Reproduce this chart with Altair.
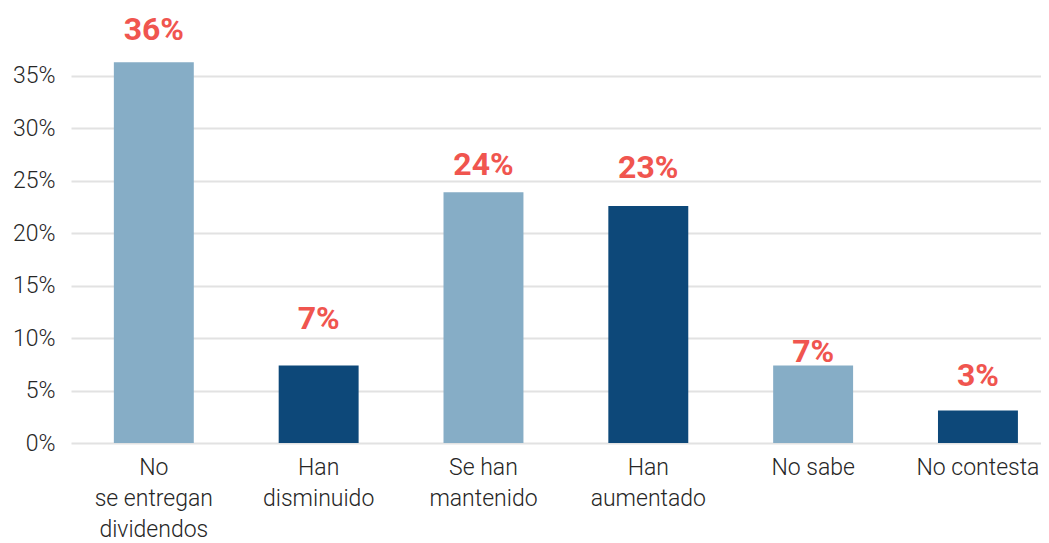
import altair as alt
import pandas as pd

categories = ["No|se entregan|dividendos", "Han|disminuido", "Se han|mantenido",
              "Han|aumentado", "No sabe", "No contesta"]
values = [0.363, 0.074, 0.239, 0.226, 0.074, 0.031]
value_labels = ["36%", "7%", "24%", "23%", "7%", "3%"]
tones = ["claro", "oscuro", "claro", "oscuro", "claro", "oscuro"]
y_ticks = [0, 0.05, 0.10, 0.15, 0.20, 0.25, 0.30, 0.35]

# style: pixel gap between each bar top and its label baseline
label_gaps = [22, 36, 17, 28, 3, 24]

df = pd.DataFrame({
    "cat": categories,
    "value": values,
    "label": value_labels,
    "tone": tones,
})

x = alt.X(
    "cat:N",
    sort=categories,
    title=None,
    scale=alt.Scale(paddingInner=0.515, paddingOuter=0.2, align=0.65),
    axis=alt.Axis(
        labelExpr="split(datum.value, '|')",
        labelAngle=0,
        labelFont="Roboto",
        labelFontWeight=300,
        labelFontSize=23,
        labelColor="#262626",
        labelLineHeight=31,
        labelPadding=13,
        ticks=False,
        domain=False,
        grid=False,
    ),
)

y = alt.Y(
    "value:Q",
    title=None,
    scale=alt.Scale(domain=[0, 0.4147], nice=False),
    axis=alt.Axis(
        values=y_ticks,
        format=".0%",
        labelFont="Roboto",
        labelFontWeight=300,
        labelFontSize=23,
        labelColor="#262626",
        labelPadding=16,
        ticks=False,
        tickSize=0,
        domain=False,
        grid=True,
        gridColor="#E2E2E2",
        gridWidth=2,
    ),
)

bars = alt.Chart(df).mark_bar().encode(
    x=x,
    y=y,
    color=alt.Color(
        "tone:N",
        scale=alt.Scale(domain=["claro", "oscuro"], range=["#86ADC6", "#0D4879"]),
        legend=None,
    ),
)

text_layers = []
for i, cat in enumerate(categories):
    t = alt.Chart(df).transform_filter(
        alt.datum.cat == cat
    ).mark_text(
        font="Roboto",
        fontWeight="bold",
        fontSize=32,
        color="#F0554F",
        baseline="alphabetic",
        align="center",
        dy=-label_gaps[i],
    ).encode(
        x=alt.X("cat:N", sort=categories),
        y=alt.Y("value:Q"),
        text="label:N",
    )
    text_layers.append(t)

chart = (
    alt.layer(bars, *text_layers)
    .properties(
        width=970,
        height=435,
        autosize=alt.AutoSizeParams(type="none"),
        padding={"left": 63, "top": 0, "right": 0, "bottom": 100},
        background="white",
    )
    .configure_view(stroke=None)
)

chart.save("out.html", embed_options={"renderer": "svg", "actions": False})
